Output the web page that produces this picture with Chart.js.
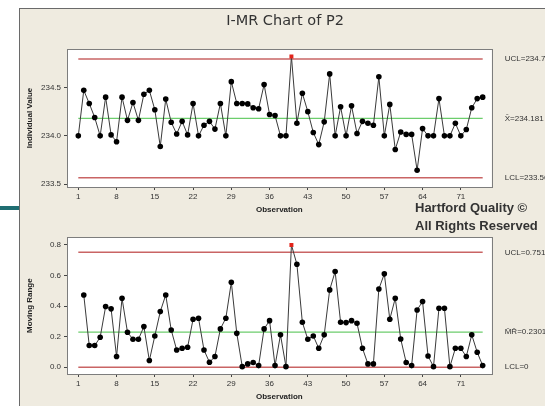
<!DOCTYPE html>
<html lang="en">
<head>
<meta charset="UTF-8">
<title>I-MR Chart of P2</title>
<script src="https://cdn.jsdelivr.net/npm/chart.js"></script>
<style>
  body { margin: 0; width: 545px; height: 406px; overflow: hidden; position: relative; background: #fff; }
  .panel { position: absolute; left: 19px; top: 8px; width: 526px; height: 398px; background: #efebe0; border-top: 1px solid #6a6a6a; border-left: 1px solid #6a6a6a; }
  .teal { position: absolute; left: 0; top: 206px; width: 19px; height: 4px; background: #1f6e72; }
  canvas { position: absolute; left: 0; }
  #iChart { top: 0; }
  #mrChart { top: 222px; }
  .mark { position: absolute; left: 415px; top: 199px; font: bold 13px 'Liberation Sans', Arial, sans-serif; line-height: 18px; color: #333; }
</style>
</head>
<body>
<div class="panel"></div>
<div class="teal"></div>
<canvas id="iChart" width="545" height="222"></canvas>
<canvas id="mrChart" width="545" height="184"></canvas>
<div class="mark">Hartford Quality &copy;<br>All Rights Reserved</div>

<script>
// individual values, observations 1..75
const indVals = [
    234.00, 234.47, 234.335, 234.19, 234.00, 234.40, 234.01, 233.94, 234.40, 234.16,
    234.345, 234.16, 234.43, 234.47, 234.27, 233.89, 234.38, 234.14, 234.02, 234.15,
    234.01, 234.335, 234.00, 234.11, 234.15, 234.07, 234.335, 234.00, 234.56, 234.335,
    234.335, 234.33, 234.29, 234.28, 234.53, 234.22, 234.21, 234.00, 234.00, 234.82,
    234.13, 234.44, 234.25, 234.035, 233.91, 234.145, 234.64, 234.00, 234.30, 234.00,
    234.31, 234.025, 234.15, 234.13, 234.11, 234.61, 234.00, 234.325, 233.86, 234.04,
    234.015, 234.015, 233.645, 234.075, 234.00, 234.00, 234.385, 234.00, 234.00, 234.13,
    234.00, 234.065, 234.29, 234.385, 234.40
];
// moving ranges (first observation has none)
const mrVals = [
    null, 0.473, 0.142, 0.142, 0.196, 0.397, 0.382, 0.070, 0.451, 0.229,
    0.183, 0.183, 0.266, 0.044, 0.205, 0.364, 0.473, 0.244, 0.113, 0.124,
    0.131, 0.314, 0.321, 0.113, 0.033, 0.070, 0.251, 0.321, 0.556, 0.222,
    0.004, 0.022, 0.031, 0.011, 0.251, 0.305, 0.011, 0.212, 0.004, 0.800,
    0.674, 0.294, 0.183, 0.205, 0.124, 0.212, 0.506, 0.626, 0.294, 0.292,
    0.305, 0.288, 0.124, 0.022, 0.022, 0.512, 0.611, 0.314, 0.451, 0.185,
    0.031, 0.011, 0.375, 0.430, 0.074, 0.004, 0.386, 0.386, 0.004, 0.124,
    0.124, 0.070, 0.212, 0.098, 0.011
];
const obs = indVals.map((v, i) => i + 1);

const iLimits = [233.568, 234.181, 234.794];       // LCL, center, UCL
const iLimitLabels = ['LCL=233.568', 'X\u0304=234.181', 'UCL=234.794'];
const mrLimits = [0, 0.2301, 0.7519];
const mrLimitLabels = ['LCL=0', 'M\u0304R\u0304=0.2301', 'UCL=0.7519'];

const xTicks = [1, 8, 15, 22, 29, 36, 43, 50, 57, 64, 71];
const iTicks = [233.5, 234.0, 234.5];
const mrTicks = [0.0, 0.2, 0.4, 0.6, 0.8];

const tickFont = { family: "'Liberation Sans', Arial, sans-serif", size: 8 };
const titleFont = { family: "'Liberation Sans', Arial, sans-serif", size: 8, weight: 'bold' };
const redLine = '#c96464';
const greenLine = '#6ccd6c';

// white plot area + grey frame
const framePlugin = {
    id: 'frame',
    beforeDraw(chart) {
        const { ctx, chartArea: a } = chart;
        ctx.save();
        ctx.fillStyle = '#fff';
        ctx.fillRect(a.left, a.top, a.width, a.height);
        ctx.restore();
    },
    beforeDatasetsDraw(chart) {
        const { ctx, chartArea: a } = chart;
        ctx.save();
        ctx.strokeStyle = '#7d7d7d';
        ctx.lineWidth = 1;
        ctx.strokeRect(Math.round(a.left) + 0.5, Math.round(a.top) + 0.5, Math.round(a.width), Math.round(a.height));
        ctx.restore();
    }
};

function limitLine(value, color, width) {
    return {
        data: [{ x: obs[0], y: value }, { x: obs[obs.length - 1], y: value }],
        borderColor: color,
        borderWidth: width,
        pointRadius: 0
    };
}

function makeChart(id, vals, limits, limitLabels, yTicks, yMin, yMax, yTitle, opts) {
    const ucl = limits[2];
    const out = v => v !== null && v > ucl;
    return new Chart(document.getElementById(id), {
        type: 'line',
        data: {
            datasets: [
                {
                    data: obs.map((x, i) => ({ x: x, y: vals[i] })),
                    borderColor: '#3a3a3a',
                    borderWidth: 1,
                    pointRadius: 2.8,
                    pointBorderWidth: 0,
                    pointStyle: ctx => out(vals[ctx.dataIndex]) ? 'rect' : 'circle',
                    pointBackgroundColor: ctx => out(vals[ctx.dataIndex]) ? '#e2231a' : '#000',
                    spanGaps: false
                },
                limitLine(limits[2], redLine, 1.5),
                limitLine(limits[1], greenLine, 1.2),
                limitLine(limits[0], redLine, 1.5)
            ]
        },
        options: {
            responsive: false,
            devicePixelRatio: 1,
            animation: false,
            layout: { padding: { left: 25, right: 0, top: opts.padTop, bottom: 0 } },
            plugins: {
                legend: { display: false },
                tooltip: { enabled: false },
                title: opts.title
            },
            scales: {
                x: {
                    type: 'linear',
                    min: -1.07,
                    max: 76.65,
                    afterBuildTicks: s => { s.ticks = xTicks.map(v => ({ value: v })); },
                    afterFit: s => { s.height = opts.xHeight; },
                    grid: { drawOnChartArea: false, drawTicks: true, tickLength: 3, color: '#444' },
                    border: { display: false },
                    ticks: { font: tickFont, color: '#333', padding: 2, maxRotation: 0, autoSkip: false },
                    title: { display: true, text: 'Observation', font: titleFont, color: '#222', padding: { top: 0, bottom: opts.obsPad } }
                },
                y: {
                    min: yMin,
                    max: yMax,
                    afterBuildTicks: s => { s.ticks = yTicks.map(v => ({ value: v })); },
                    afterFit: s => { s.width = 42; },
                    grid: { drawOnChartArea: false, drawTicks: true, tickLength: 3, color: '#444' },
                    border: { display: false },
                    ticks: { font: tickFont, color: '#333', padding: 3, callback: v => v.toFixed(1) },
                    title: { display: true, text: yTitle, font: titleFont, color: '#222', padding: { top: 0, bottom: 0 } }
                },
                y2: {
                    position: 'right',
                    min: yMin,
                    max: yMax,
                    afterBuildTicks: s => { s.ticks = limits.map(v => ({ value: v })); },
                    afterFit: s => { s.width = 53.3; },
                    grid: { display: false },
                    border: { display: false },
                    ticks: { font: tickFont, color: '#333', padding: 5, callback: (v, i) => limitLabels[i] }
                }
            }
        },
        plugins: [framePlugin]
    });
}

makeChart('iChart', indVals, iLimits, iLimitLabels, iTicks, 233.472, 234.897, 'Individual Value', {
    padTop: 0,
    xHeight: 35,
    obsPad: 7.2,
    title: {
        display: true,
        text: 'I-MR Chart of P2',
        color: '#333',
        font: { family: "'DejaVu Sans', sans-serif", size: 14.5, weight: 'normal' },
        padding: { top: 12.3, bottom: 19.3 }
    }
});

makeChart('mrChart', mrVals, mrLimits, mrLimitLabels, mrTicks, -0.044, 0.850, 'Moving Range', {
    padTop: 15.3,
    xHeight: 32,
    obsPad: 4.2,
    title: { display: false }
});
</script>
</body>
</html>
